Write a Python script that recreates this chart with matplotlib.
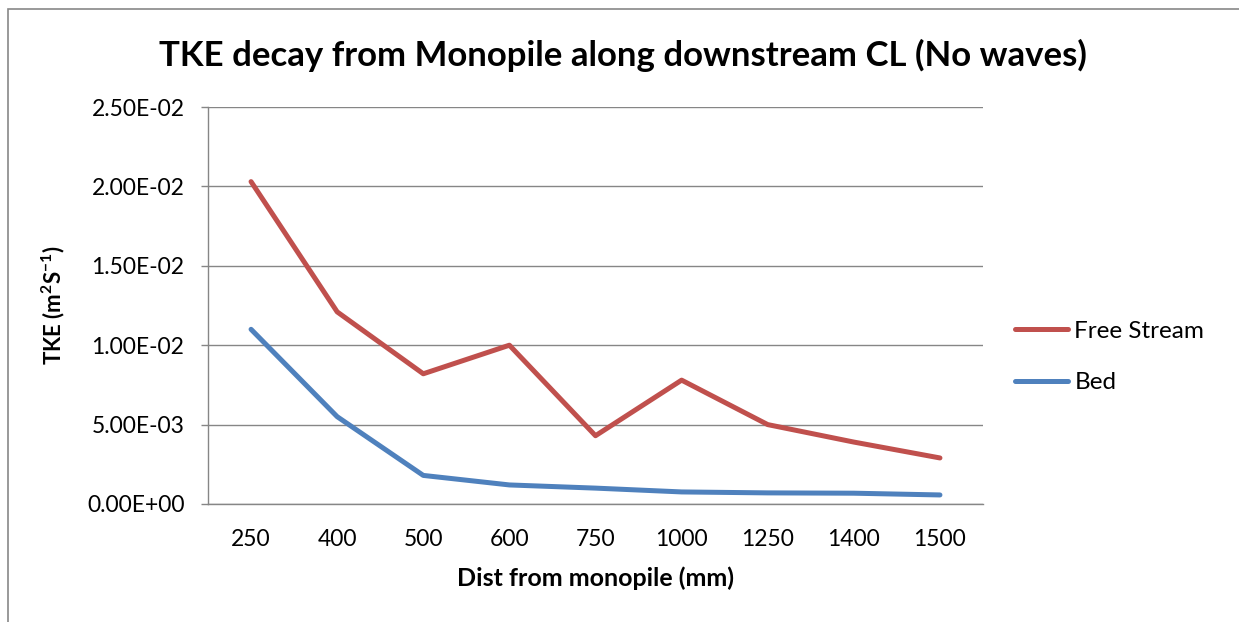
import matplotlib
matplotlib.use("Agg")
import matplotlib.pyplot as plt
from matplotlib.patches import Rectangle

plt.rcParams['font.family'] = ['Lato', 'DejaVu Sans']
plt.rcParams['mathtext.fontset'] = 'custom'
plt.rcParams['mathtext.rm'] = 'Lato'
plt.rcParams['mathtext.bf'] = 'Lato:bold'

distances = ["250", "400", "500", "600", "750", "1000", "1250", "1400", "1500"]
free_stream = [0.0203, 0.0121, 0.0082, 0.0100, 0.0043, 0.0078, 0.0050, 0.0039, 0.0029]
bed = [0.0110, 0.0055, 0.0018, 0.0012, 0.0010, 0.00076, 0.00070, 0.00068, 0.00057]
yticks = [0.0, 0.005, 0.010, 0.015, 0.020, 0.025]

W, H = 1239, 622
fig = plt.figure(figsize=(W / 100, H / 100), dpi=100)
ax = fig.add_axes([208 / W, 1 - 504 / H, (983 - 208) / W, (504 - 107) / H])

# outer chart frame (only top/left visible in screenshot)
fig.patches.append(Rectangle((7.5 / W, -0.1), 1.2, 1 - 8.5 / H + 0.1,
                             transform=fig.transFigure, fill=False,
                             edgecolor='#888888', lw=1.2))

x = list(range(len(distances)))
red = '#C0504D'
blue = '#4F81BD'
ax.plot(x, free_stream, color=red, lw=3.6, solid_capstyle='round',
        solid_joinstyle='round', label='Free Stream', zorder=3)
ax.plot(x, bed, color=blue, lw=3.6, solid_capstyle='round',
        solid_joinstyle='round', label='Bed', zorder=3)

ax.set_xlim(-0.5, len(distances) - 0.5)
ax.set_ylim(0, 0.025)
ax.set_yticks(yticks)
ax.set_yticklabels([f"{v:.2E}" for v in yticks], fontsize=16.5)
ax.set_xticks(x)
ax.set_xticklabels(distances, fontsize=16.5)
ax.tick_params(axis='x', length=0, pad=18)
ax.tick_params(axis='y', length=5, width=1, color='#868686', pad=12)
ax.grid(axis='y', color='#868686', lw=1)
ax.set_axisbelow(True)
for s in ['top', 'right']:
    ax.spines[s].set_visible(False)
for s in ['left', 'bottom']:
    ax.spines[s].set_color('#868686')
    ax.spines[s].set_linewidth(1)

fig.text(0.503, 1 - 55 / H, "TKE decay from Monopile along downstream CL (No waves)",
         fontsize=25, fontweight='bold', ha='center', va='center')
ax.set_xlabel("Dist from monopile (mm)", fontsize=18, fontweight='bold', labelpad=12)
ax.set_ylabel(r"TKE (m$^{\mathbf{2}}$S$^{\mathbf{-1}}$)", fontsize=16,
              fontweight='bold', labelpad=14)

ax.legend(loc='center left', bbox_to_anchor=(1.013, 0.37), frameon=False,
          fontsize=17.5, handlelength=2.2, handletextpad=0.25, labelspacing=1.25)

fig.savefig("out.png", dpi=100)
